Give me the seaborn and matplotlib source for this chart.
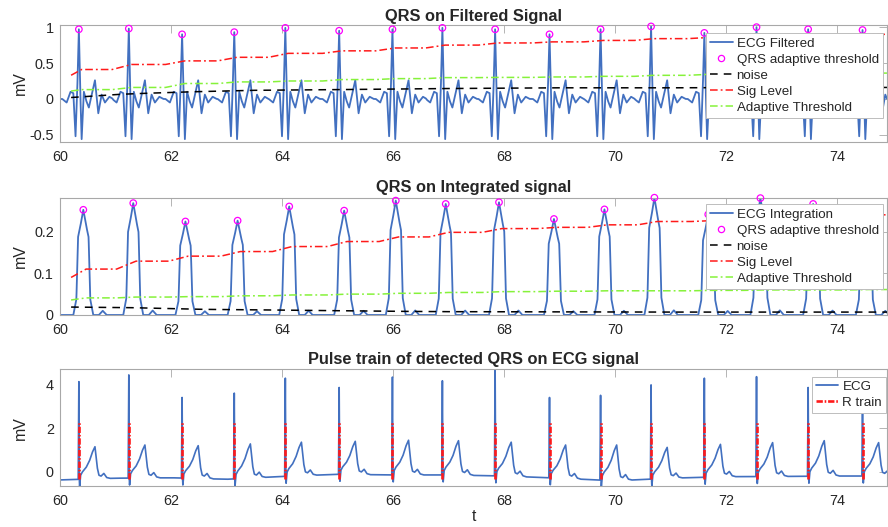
import numpy as np
import pandas as pd
import matplotlib
matplotlib.use("Agg")
import matplotlib.pyplot as plt
import seaborn as sns
from matplotlib.lines import Line2D

# ---------------- data ----------------
r_times = [60.34, 61.24, 62.20, 63.14, 64.06, 65.03, 65.99, 66.89, 67.84, 68.82,
           69.74, 70.65, 71.61, 72.55, 73.48, 74.46]
filt_peaks = [0.97, 0.98, 0.90, 0.93, 0.99, 0.95, 0.97, 0.99, 0.97, 0.90,
              0.97, 1.01, 0.92, 1.00, 0.97, 0.96]
int_times = [60.42, 61.32, 62.26, 63.20, 64.13, 65.12, 66.05, 66.95, 67.91, 68.90,
             69.81, 70.71, 71.68, 72.62, 73.57, 74.52]
int_peaks = [0.252, 0.268, 0.224, 0.226, 0.260, 0.250, 0.274, 0.266, 0.270, 0.230,
             0.253, 0.281, 0.241, 0.280, 0.266, 0.250]
ecg_r = [4.15, 4.46, 3.42, 3.62, 4.31, 3.88, 4.36, 4.19, 4.80, 3.42,
         3.52, 4.00, 4.31, 4.38, 3.88, 3.60]
ecg_t = [1.15, 1.23, 1.20, 1.28, 1.36, 1.40, 1.45, 1.43, 1.36, 1.23,
         1.23, 1.12, 1.26, 1.34, 1.43, 1.34]
baseline_t = [60, 61, 62, 63, 64, 65, 66, 67, 68, 69, 70, 71, 72, 73, 74, 75]
baseline_v = [-0.38, -0.30, -0.28, -0.35, -0.22, -0.12, -0.15, -0.15, -0.20, -0.30,
              -0.42, -0.30, -0.23, -0.22, -0.20, -0.20]

# beat shape templates (offset from beat in s, value)
filt_off = [-0.30, -0.22, -0.15, -0.10, -0.06, -0.03, 0.0, 0.025, 0.05, 0.09,
            0.13, 0.18, 0.23, 0.29, 0.35, 0.41, 0.47, 0.55, 0.62]
filt_val = [0.00, -0.05, 0.10, 0.08, -0.52, 0.10, 0.0, 0.10, -0.56, 0.10,
            -0.02, -0.12, 0.05, 0.26, -0.20, 0.06, -0.05, 0.03, 0.00]
int_off = [-0.18, -0.15, -0.125, -0.095, -0.055, 0.0, 0.055, 0.095, 0.125, 0.15, 0.18,
           0.28, 0.35, 0.42]
int_frac = [0.0, 0.08, 0.15, 0.74, 0.84, 1.0, 0.84, 0.74, 0.15, 0.08, 0.0,
            0.0, 0.04, 0.0]
qrs_off = [-0.04, -0.012, 0.0, 0.008, 0.014, 0.03]
qrs_val = [0.0, 0.0, 0.0, 0.0, -0.32, 0.0]
tw_off = [0.014, 0.03, 0.06, 0.13, 0.19, 0.24, 0.29, 0.33, 0.36, 0.40, 0.45, 0.50, 0.56]
tw_frac = [0.0, 0.12, 0.22, 0.36, 0.56, 0.82, 1.0, 0.36, 0.11, 0.08, 0.16, 0.03, 0.0]

# threshold / level values (start value, then value after each beat)
sig_top = [0.33, 0.41, 0.48, 0.53, 0.58, 0.635, 0.67, 0.71, 0.75, 0.78, 0.795,
           0.815, 0.84, 0.855, 0.87, 0.885, 0.90]
thr_top = [0.11, 0.13, 0.16, 0.215, 0.237, 0.25, 0.27, 0.283, 0.297, 0.30, 0.306,
           0.315, 0.329, 0.342, 0.35, 0.355, 0.36]
noise_top_t = [60.2, 60.6, 61.1, 61.6, 62.4, 63.5, 65.0, 67.0, 69.0, 71.0, 73.0, 74.9]
noise_top_v = [0.02, 0.04, 0.065, 0.08, 0.10, 0.12, 0.13, 0.145, 0.155, 0.155, 0.16, 0.16]
sig_mid = [0.09, 0.11, 0.129, 0.141, 0.152, 0.164, 0.176, 0.187, 0.198, 0.207, 0.21,
           0.216, 0.224, 0.226, 0.232, 0.236, 0.24]
thr_mid = [0.036, 0.041, 0.043, 0.044, 0.046, 0.048, 0.05, 0.052, 0.054, 0.056, 0.057,
           0.058, 0.058, 0.059, 0.06, 0.06, 0.061]
noise_mid_t = [60.2, 61.3, 62.6, 63.8, 65.0, 66.2, 67.0, 69.0, 71.0, 73.0, 74.9]
noise_mid_v = [0.019, 0.0175, 0.0135, 0.012, 0.0103, 0.0087, 0.008, 0.0075, 0.007, 0.007, 0.007]
rtrain_lo, rtrain_hi = -0.34, 2.34

# ---------------- build signals ----------------
grid = np.arange(60.0, 75.0, 0.002)


def place(centers, off, vals_list):
    y = np.zeros_like(grid)
    off = np.asarray(off)
    for c, vals in zip(centers, vals_list):
        rel = grid - c
        m = (rel >= off[0]) & (rel <= off[-1])
        y[m] += np.interp(rel[m], off, vals)
    return y


i0 = filt_off.index(0.0)
filt_list = []
for p in filt_peaks:
    v = list(filt_val)
    v[i0] = p
    filt_list.append(v)
y_filt = place(r_times, filt_off, filt_list)

y_int = place(int_times, int_off, [[f * p for f in int_frac] for p in int_peaks])

base = np.interp(grid, baseline_t, baseline_v)
qrs_list, tw_list = [], []
j0 = qrs_off.index(0.0)
for c, r, tp in zip(r_times, ecg_r, ecg_t):
    b = np.interp(c, baseline_t, baseline_v)
    v = list(qrs_val)
    v[j0] = r - b
    qrs_list.append(v)
    bt = np.interp(c + 0.29, baseline_t, baseline_v)
    tw_list.append([f * (tp - bt) for f in tw_frac])
y_ecg = base + place(r_times, qrs_off, qrs_list) + place(r_times, tw_off, tw_list)


def level_line(times, levels, start=60.2, end=74.9):
    xs, ys = [start], [levels[0]]
    for i, t in enumerate(times):
        a, b = t - 0.30, t + 0.05
        if a > xs[-1]:
            xs.append(a); ys.append(levels[i])
        xs.append(b); ys.append(levels[i + 1])
    xs.append(end); ys.append(levels[-1])
    return xs, ys


# ---------------- style ----------------
sns.set_style("white")
plt.rcParams["font.family"] = ["Liberation Sans", "DejaVu Sans"]
plt.rcParams["axes.unicode_minus"] = False

BLUE = "#4270C0"
RED = "#FF1A1A"
GREEN = "#86F23A"
MAG = "#FF00FF"
DD = (0, (5.0, 2.0, 1.2, 2.0))
DD_THICK = (0, (2.4, 0.7, 0.6, 0.7))
DASH = (0, (5.0, 4.0))
TICKC = "#262626"
FRAME = "#a8a8a8"

fig = plt.figure(figsize=(8.88, 5.27), dpi=100)
W, H = 888.0, 527.0


def mkax(top, bottom):
    return fig.add_axes([60 / W, 1 - bottom / H, (887 - 60) / W, (bottom - top) / H])


ax1 = mkax(25, 142)
ax2 = mkax(197.7, 315)
ax3 = mkax(369.3, 486)

# ---- top ----
sns.lineplot(x=grid, y=y_filt, ax=ax1, color=BLUE, lw=1.3, estimator=None, sort=False)
sns.scatterplot(x=r_times, y=filt_peaks, ax=ax1, marker="o", s=22, facecolors="none",
                edgecolor=MAG, linewidth=0.9, zorder=4, clip_on=False)
ax1.plot(noise_top_t, noise_top_v, color="k", ls=DASH, lw=1.1, zorder=3)
xs, ys = level_line(r_times, sig_top)
ax1.plot(xs, ys, color=RED, ls=DD, lw=1.1, zorder=3)
xs, ys = level_line(r_times, thr_top)
ax1.plot(xs, ys, color=GREEN, ls=DD, lw=1.1, zorder=3)
ax1.set_ylim(-0.6, 1.03)
ax1.set_yticks([-0.5, 0, 0.5, 1])
ax1.set_yticklabels(["-0.5", "0", "0.5", "1"])
ax1.set_title("QRS on Filtered Signal", fontsize=11.8, fontweight="bold", pad=3.2)

# ---- middle ----
sns.lineplot(x=grid, y=y_int, ax=ax2, color=BLUE, lw=1.3, estimator=None, sort=False)
sns.scatterplot(x=int_times, y=int_peaks, ax=ax2, marker="o", s=22, facecolors="none",
                edgecolor=MAG, linewidth=0.9, zorder=4, clip_on=False)
ax2.plot(noise_mid_t, noise_mid_v, color="k", ls=DASH, lw=1.1, zorder=3)
xs, ys = level_line(int_times, sig_mid)
ax2.plot(xs, ys, color=RED, ls=DD, lw=1.1, zorder=3)
xs, ys = level_line(int_times, thr_mid)
ax2.plot(xs, ys, color=GREEN, ls=DD, lw=1.1, zorder=3)
ax2.set_ylim(0, 0.281)
ax2.set_yticks([0, 0.1, 0.2])
ax2.set_yticklabels(["0", "0.1", "0.2"])
ax2.set_title("QRS on Integrated signal", fontsize=11.8, fontweight="bold", pad=4.3)

# ---- bottom ----
sns.lineplot(x=grid, y=y_ecg, ax=ax3, color=BLUE, lw=1.2, estimator=None, sort=False)
ax3.vlines(r_times, rtrain_lo, rtrain_hi, colors=RED, linestyles=[DD_THICK], lw=1.9, zorder=3)
ax3.set_ylim(-0.66, 4.72)
ax3.set_yticks([0, 2, 4])
ax3.set_yticklabels(["0", "2", "4"])
ax3.set_title("Pulse train of detected QRS on ECG signal", fontsize=11.8,
              fontweight="bold", pad=3.8)
ax3.set_xlabel("t", fontsize=11.4, color=TICKC, labelpad=0.5)

for ax in (ax1, ax2, ax3):
    ax.set_xlim(60, 60 + 827 / 55.5)
    ax.set_xticks([60, 62, 64, 66, 68, 70, 72, 74])
    ax.set_xticklabels(["60", "62", "64", "66", "68", "70", "72", "74"])
    ax.set_ylabel("mV", fontsize=11.4, color=TICKC)
    ax.tick_params(direction="in", top=True, right=True, length=5.5, width=0.6,
                   color=FRAME, labelcolor=TICKC, labelsize=10.4, pad=4.5)
    ax.tick_params(axis="x", pad=6)
    for s in ax.spines.values():
        s.set_color(FRAME)
        s.set_linewidth(0.8)
    if ax is not ax3:
        ax.set_xlabel("")
    ax.yaxis.set_label_coords(-32 / 827, 0.5)

# ---- legends ----
def lg(ax, handles, labels, right, top):
    leg = ax.legend(handles, labels, loc="upper right",
                    bbox_to_anchor=(right / W, 1 - top / H), bbox_transform=fig.transFigure,
                    borderaxespad=0, fontsize=9.6, frameon=True, fancybox=False,
                    edgecolor="#bdbdbd", framealpha=1, handlelength=1.7,
                    handletextpad=0.3, labelspacing=0.28, borderpad=0.3)
    leg.get_frame().set_linewidth(0.7)
    leg.set_zorder(10)
    return leg


def std_handles():
    return [Line2D([], [], color=BLUE, lw=1.3),
            Line2D([], [], ls="none", marker="o", mfc="none", mec=MAG, ms=4.5, mew=0.9),
            Line2D([], [], color="k", ls=DASH, lw=1.1),
            Line2D([], [], color=RED, ls=DD, lw=1.1),
            Line2D([], [], color=GREEN, ls=DD, lw=1.1)]


lab = ["QRS adaptive threshold", "noise", "Sig Level", "Adaptive Threshold"]
lg(ax1, std_handles(), ["ECG Filtered"] + lab, 882.7, 33.3)
lg(ax2, std_handles(), ["ECG Integration"] + lab, 882.7, 204.3)
lg(ax3, [Line2D([], [], color=BLUE, lw=1.3), Line2D([], [], color=RED, ls=DD_THICK, lw=1.9)],
   ["ECG", "R train"], 886, 376.7)

fig.savefig("out.png", dpi=100)
